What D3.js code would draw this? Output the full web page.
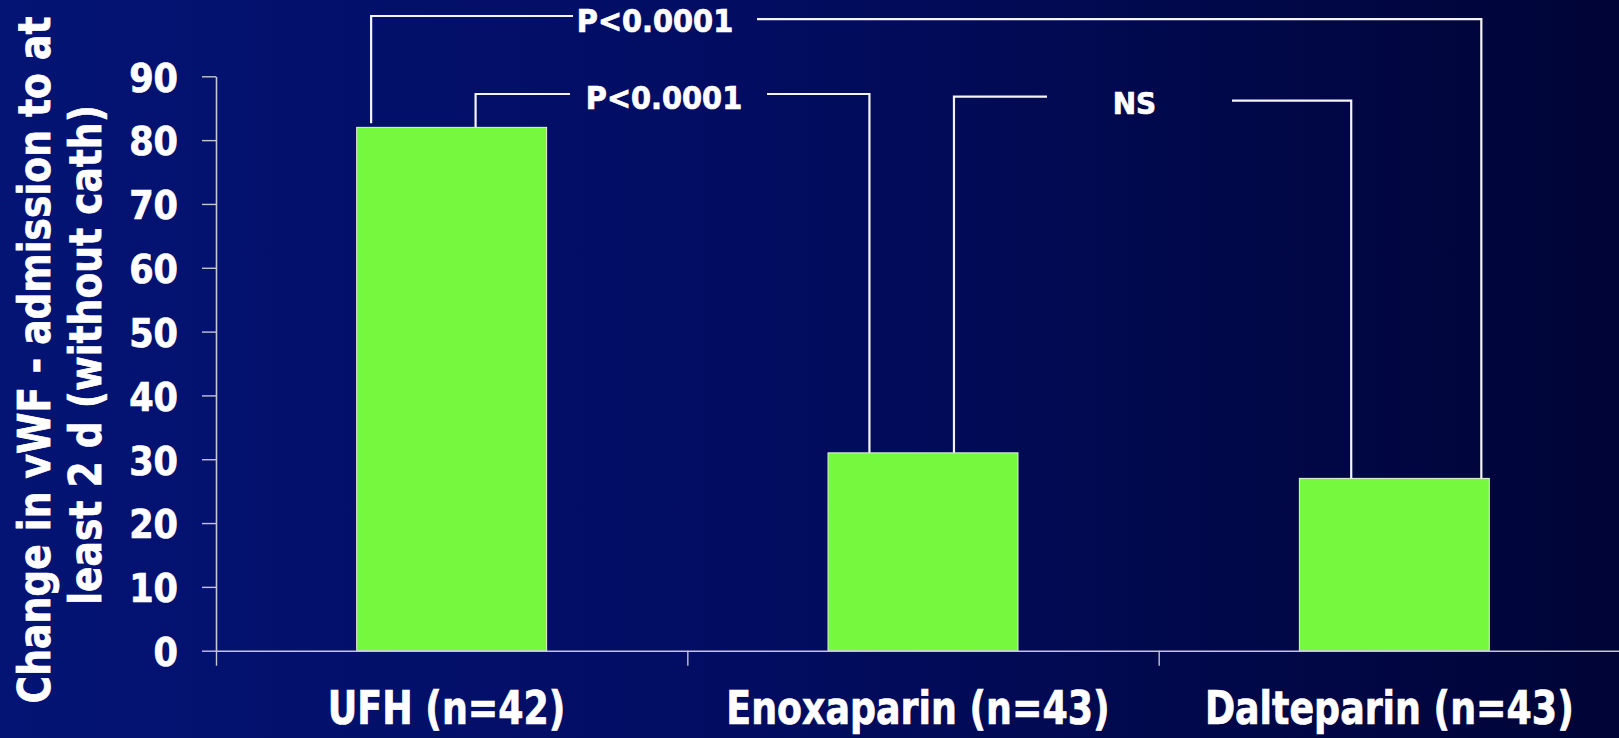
<!DOCTYPE html>
<html>
<head>
<meta charset="utf-8">
<script src="https://cdn.jsdelivr.net/npm/d3@7"></script>
<style>
  html, body { margin: 0; padding: 0; background: #020b5a; }
  svg { display: block; }
  text { font-family: "DejaVu Sans Condensed", "DejaVu Sans", sans-serif; font-stretch: condensed; font-weight: bold; fill: #ffffff; stroke: #ffffff; stroke-width: 0.7px; }
</style>
</head>
<body>
<svg id="chart" width="1619" height="738"></svg>
<script>
// Change in vWF from admission to at least 2 days (patients without cath)
const categories = ["UFH (n=42)", "Enoxaparin (n=43)", "Dalteparin (n=43)"];
const changeVWF = [82, 31, 27];
const yTicks = [0, 10, 20, 30, 40, 50, 60, 70, 80, 90];
const yTitleLines = ["Change in vWF - admission to at", "least 2 d (without cath)"];
const comparisonFrom = ["UFH (n=42)", "UFH (n=42)", "Enoxaparin (n=43)"];
const comparisonTo = ["Dalteparin (n=43)", "Enoxaparin (n=43)", "Dalteparin (n=43)"];
const comparisonLabels = ["P<0.0001", "P<0.0001", "NS"];

const W = 1619, H = 738;
const svg = d3.select("#chart");

// background: deep blue fading to near-black navy on the right
const defs = svg.append("defs");
const grad = defs.append("linearGradient").attr("id", "bg").attr("x1", "0").attr("x2", "1").attr("y1", "0").attr("y2", "0");
grad.append("stop").attr("offset", "0%").attr("stop-color", "#041474");
grad.append("stop").attr("offset", "45%").attr("stop-color", "#020d62");
grad.append("stop").attr("offset", "100%").attr("stop-color", "#000436");
svg.append("rect").attr("width", W).attr("height", H).attr("fill", "url(#bg)");

const plot = { left: 216, right: 1630, top: 76.3, bottom: 650.7 };

const x = d3.scaleBand().domain(categories).range([plot.left, plot.right])
  .paddingInner(0.597).paddingOuter(0.2985);
const y = d3.scaleLinear().domain([0, 90]).range([plot.bottom, plot.top]);
const xEdges = d3.scaleLinear().domain([0, categories.length]).range([plot.left, plot.right]);

const axisColor = "#c4c6d4";

// bars
svg.append("g").selectAll("rect").data(categories).join("rect")
  .attr("x", d => x(d))
  .attr("y", (d, i) => y(changeVWF[i]))
  .attr("width", x.bandwidth())
  .attr("height", (d, i) => y(0) - y(changeVWF[i]))
  .attr("fill", "#76f83f")
  .attr("stroke", "#e6f2dc")
  .attr("stroke-width", 1);

// x axis: boundary ticks between categories
const gx = svg.append("g").attr("transform", `translate(0,${plot.bottom})`)
  .call(d3.axisBottom(xEdges).ticks(categories.length).tickFormat("").tickSize(15).tickSizeOuter(0));
gx.select(".domain").attr("stroke", axisColor).attr("stroke-width", 1.6);
gx.selectAll(".tick line").attr("stroke", axisColor).attr("stroke-width", 1.4);
gx.append("line").attr("x1", plot.right).attr("x2", W + 10).attr("stroke", axisColor).attr("stroke-width", 1.6);

// category labels, drawn horizontally compressed
const gxl = svg.append("g").attr("transform", `translate(-5,${plot.bottom})`)
  .call(d3.axisBottom(x).tickSize(0).tickPadding(0));
gxl.select(".domain").remove();
gxl.selectAll(".tick text")
  .attr("y", 73.5).attr("dy", 0)
  .attr("transform", "scale(0.86,1)")
  .style("font-size", "47px");

// y axis
const gy = svg.append("g").attr("transform", `translate(${plot.left},0)`)
  .call(d3.axisLeft(y).tickValues(yTicks).tickSize(14).tickSizeOuter(0).tickPadding(24));
gy.select(".domain").attr("stroke", axisColor).attr("stroke-width", 1.6);
gy.selectAll(".tick line").attr("stroke", axisColor).attr("stroke-width", 1.4);
gy.selectAll(".tick text").style("font-size", "39px").attr("dy", "0.38em");

// y axis title, two rotated lines
const titleLayout = [{ x: 50, y: 360 }, { x: 101, y: 355 }];
svg.append("g").selectAll("text").data(yTitleLines).join("text")
  .attr("transform", (d, i) => `translate(${titleLayout[i].x},${titleLayout[i].y}) rotate(-90) scale(0.93,1)`)
  .attr("text-anchor", "middle")
  .style("font-size", "45px")
  .text(d => d);

// significance brackets
// per bracket: where the legs sit inside each bar (fraction of bar width),
// the bracket heights (axis units), and where the label and its gaps fall
const bracketLayout = [
  { fromFrac: 0.076, toFrac: 0.958, yL: 99.45, yR: 98.97, legGap: 4, textX: 655, textY: 96.9, gapL: 573, gapR: 757, size: 32 },
  { fromFrac: 0.626, toFrac: 0.218, yL: 87.23, yR: 87.23, legGap: 0, textX: 664, textY: 84.9, gapL: 570, gapR: 767, size: 32 },
  { fromFrac: 0.663, toFrac: 0.273, yL: 86.8, yR: 86.18, legGap: 0, textX: 1134.5, textY: 84.1, gapL: 1047, gapR: 1232, size: 31 }
];
const gb = svg.append("g").attr("fill", "none").attr("stroke", "#f4f4f8").attr("stroke-width", 2.2);
comparisonLabels.forEach((lab, i) => {
  const L = bracketLayout[i];
  const a = categories.indexOf(comparisonFrom[i]);
  const b = categories.indexOf(comparisonTo[i]);
  const xa = x(comparisonFrom[i]) + L.fromFrac * x.bandwidth();
  const xb = x(comparisonTo[i]) + L.toFrac * x.bandwidth();
  const ya = y(L.yL), yb = y(L.yR);
  const path = d3.path();
  path.moveTo(xa, y(changeVWF[a]) - L.legGap);
  path.lineTo(xa, ya);
  path.lineTo(L.gapL, ya);
  gb.append("path").attr("d", path.toString());
  const path2 = d3.path();
  path2.moveTo(L.gapR, yb);
  path2.lineTo(xb, yb);
  path2.lineTo(xb, y(changeVWF[b]));
  gb.append("path").attr("d", path2.toString());
  svg.append("text")
    .attr("x", L.textX).attr("y", y(L.textY))
    .attr("text-anchor", "middle")
    .style("font-size", L.size + "px")
    .text(lab);
});
</script>
</body>
</html>
